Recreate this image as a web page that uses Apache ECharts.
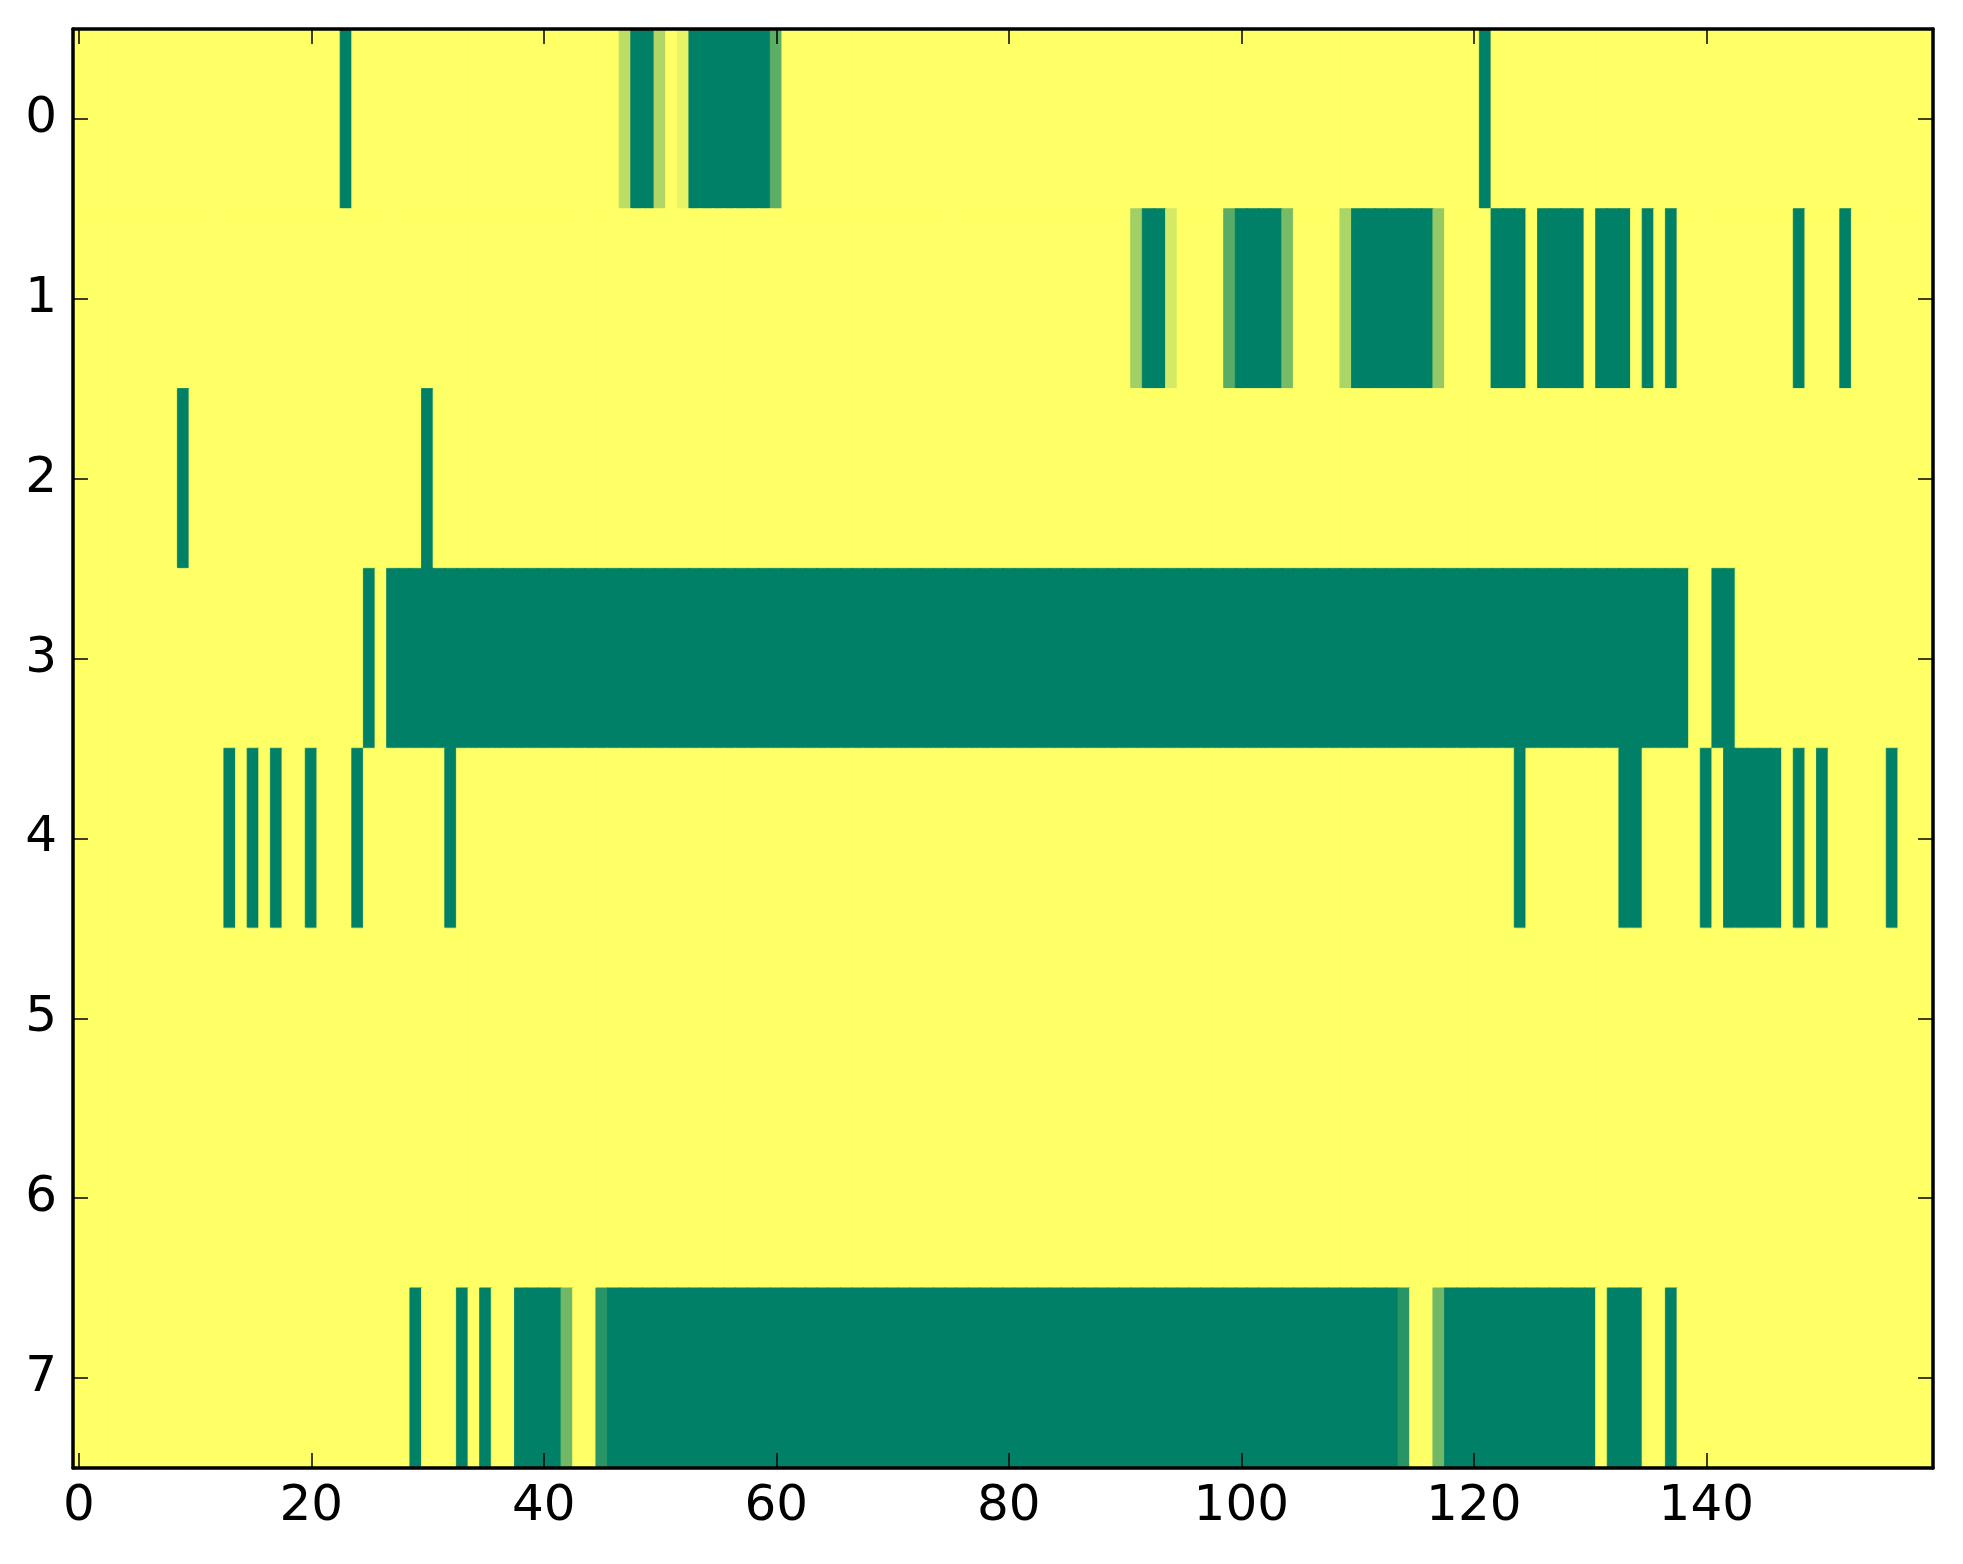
<!DOCTYPE html>
<html>
<head>
<meta charset="utf-8">
<script src="https://cdn.jsdelivr.net/npm/echarts@6/dist/echarts.min.js"></script>
<style>
html,body{margin:0;padding:0;background:#fff;}
#chart{width:1963px;height:1564px;}
</style>
</head>
<body>
<div id="chart"></div>
<script>
// number of columns and rows of the image
const nCols = 160;
const rowLabels = ['0','1','2','3','4','5','6','7'];
const xTickLabels = ['0','20','40','60','80','100','120','140'];

// each row: runs of [startCol, endCol, value]; unlisted cells are 0
const row0 = [[23,23,1],[47,47,0.26],[48,49,1],[50,50,0.31],[52,52,0.09],[53,59,1],[60,60,0.64],[121,121,1]];
const row1 = [[91,91,0.37],[92,93,1],[94,94,0.17],[99,99,0.65],[100,103,1],[104,104,0.53],[109,109,0.33],[110,116,1],[117,117,0.42],[122,124,1],[126,129,1],[131,133,1],[135,135,1],[137,137,1],[148,148,1],[152,152,1]];
const row2 = [[9,9,1],[30,30,1]];
const row3 = [[25,25,1],[27,138,1],[141,142,1]];
const row4 = [[13,13,1],[15,15,1],[17,17,1],[20,20,1],[24,24,1],[32,32,1],[124,124,1],[133,134,1],[140,140,1],[142,146,1],[148,148,1],[150,150,1],[156,156,1]];
const row5 = [];
const row6 = [];
const row7 = [[29,29,1],[33,33,1],[35,35,1],[38,41,1],[42,42,0.56],[45,45,0.84],[46,113,1],[114,114,0.84],[117,117,0.56],[118,130,1],[132,134,1],[137,137,1]];

const rows = [row0,row1,row2,row3,row4,row5,row6,row7];

// summer_r colormap: 0 -> #ffff66, 1 -> #008066
function cmap(v) {
  const r = Math.round(255 * (1 - v));
  const g = Math.round(255 * (1 - v / 2));
  return 'rgb(' + r + ',' + g + ',102)';
}

const cats = [];
for (let i = 0; i < nCols; i++) cats.push(String(i));

const data = [];
rows.forEach(function (runs, r) {
  const vals = new Array(nCols).fill(0);
  runs.forEach(function (run) {
    for (let c = run[0]; c <= run[1]; c++) vals[c] = run[2];
  });
  vals.forEach(function (v, c) {
    const col = cmap(v);
    data.push({ value: [c, r, v], itemStyle: { color: col, borderColor: col, borderWidth: 0.8 } });
  });
});

const showX = function (idx) { return xTickLabels.indexOf(String(idx)) >= 0; };
const FONT = 'DejaVu Sans';

function xAx(pos, labels) {
  return {
    type: 'category', data: cats, position: pos, z: 10,
    axisLine: { show: true, onZero: false, lineStyle: { color: '#000', width: 3.5 } },
    axisTick: { show: true, inside: true, length: 15, alignWithLabel: true, interval: function (i) { return showX(i); }, lineStyle: { color: '#000', width: 1.5 } },
    axisLabel: { show: labels, interval: function (i) { return showX(i); }, fontSize: 50, fontFamily: FONT, color: '#000', margin: 14 },
    splitLine: { show: false }
  };
}
function yAx(pos, labels) {
  return {
    type: 'category', data: rowLabels, inverse: true, position: pos, z: 10,
    axisLine: { show: true, onZero: false, lineStyle: { color: '#000', width: 3.5 } },
    axisTick: { show: true, inside: true, length: 15, alignWithLabel: true, lineStyle: { color: '#000', width: 1.5 } },
    axisLabel: { show: labels, fontSize: 50, fontFamily: FONT, color: '#000', margin: 16 },
    splitLine: { show: false }
  };
}

const chart = echarts.init(document.getElementById('chart'), null, { renderer: 'canvas' });
chart.setOption({
  animation: false,
  backgroundColor: '#ffffff',
  grid: { left: 73, top: 29, width: 1860, height: 1439, containLabel: false },
  xAxis: [xAx('bottom', true), xAx('top', false)],
  yAxis: [yAx('left', true), yAx('right', false)],
  series: [{
    type: 'heatmap', xAxisIndex: 0, yAxisIndex: 0, data: data,
    emphasis: { disabled: true }
  }]
});
</script>
</body>
</html>
